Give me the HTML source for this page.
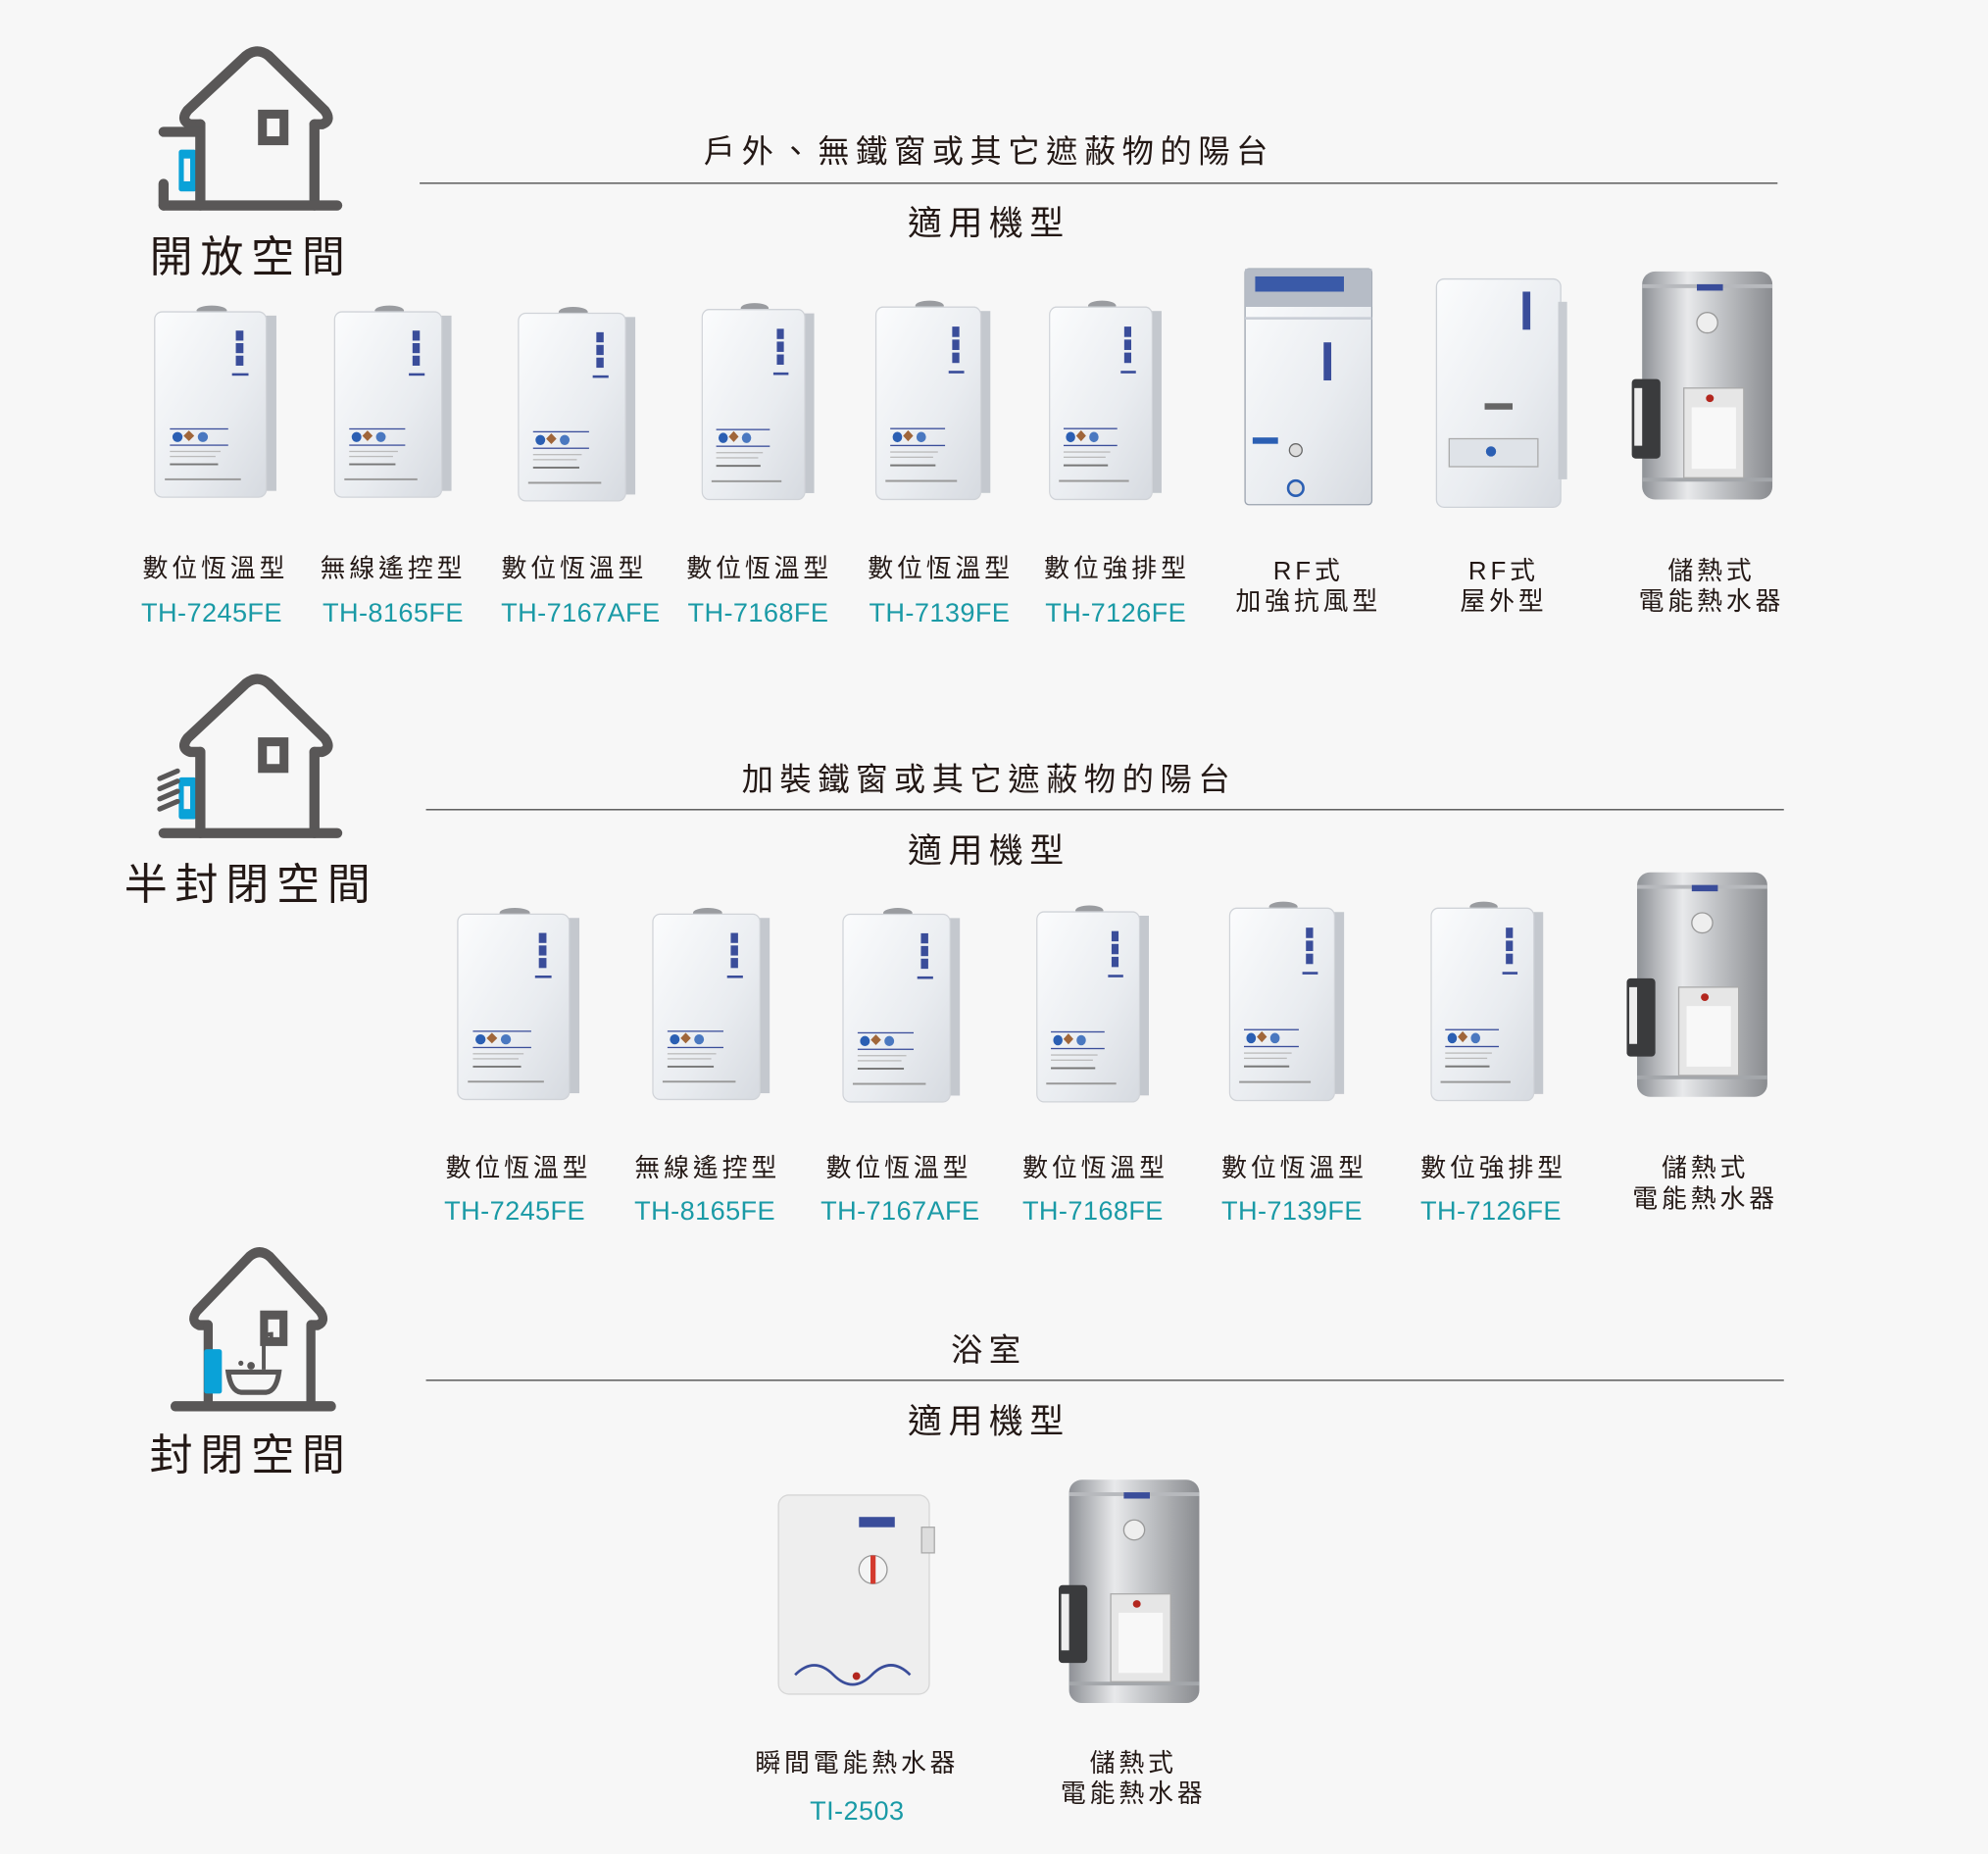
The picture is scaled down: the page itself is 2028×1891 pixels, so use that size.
<!DOCTYPE html>
<html><head><meta charset="utf-8">
<style>
html,body{margin:0;padding:0;background:#f7f7f7;}
body{width:2028px;height:1891px;overflow:hidden;position:relative;}
#st{position:absolute;left:0;top:0;width:1568px;height:1462px;transform:scale(1.29337);transform-origin:0 0;font-family:"Liberation Sans","Noto Sans CJK TC",sans-serif;color:#231815;}
.a{position:absolute;}
.t{position:absolute;text-align:center;white-space:nowrap;}
.nm{font-size:20px;letter-spacing:3px;line-height:24px;}
.md{font-size:21px;color:#1a9aa6;line-height:26px;letter-spacing:0.3px;}
.h1{font-size:25px;letter-spacing:5px;}
.h2{font-size:27px;letter-spacing:5px;}
.ln{position:absolute;height:1.3px;background:#444;}
.sp{font-size:34px;letter-spacing:6px;font-weight:normal;}
svg.p{position:absolute;overflow:visible;}
</style></head><body>
<svg width="0" height="0" style="position:absolute">
<defs>
<linearGradient id="gw" x1="0" y1="0" x2="1" y2="1"><stop offset="0" stop-color="#fbfcfd"/><stop offset="0.6" stop-color="#e9ecf0"/><stop offset="1" stop-color="#d6dae0"/></linearGradient>
<linearGradient id="gs" x1="0" y1="0" x2="1" y2="0"><stop offset="0" stop-color="#8e9196"/><stop offset="0.35" stop-color="#e8e9eb"/><stop offset="0.55" stop-color="#c9cbce"/><stop offset="1" stop-color="#8a8c90"/></linearGradient>
<symbol id="gas" viewBox="0 0 100 160" preserveAspectRatio="none">
<ellipse cx="47" cy="6" rx="12" ry="4" fill="#9a9ca0"/>
<rect x="86" y="10" width="12" height="140" fill="#c4c8ce"/>
<rect x="2" y="7" width="88" height="148" rx="6" fill="url(#gw)" stroke="#d0d3d8"/>
<rect x="66" y="22" width="6" height="8" fill="#3a4d9a"/><rect x="66" y="32" width="6" height="8" fill="#3a4d9a"/><rect x="66" y="42" width="6" height="8" fill="#3a4d9a"/>
<rect x="63" y="56" width="13" height="2" fill="#3a4d9a"/>
<rect x="14" y="100" width="46" height="1" fill="#3a4d9a"/>
<circle cx="20" cy="107" r="4" fill="#2b5fb3"/><rect x="26" y="103" width="6" height="6" fill="#a0663a" transform="rotate(45 29 106)"/><circle cx="40" cy="107" r="4" fill="#4a78c0"/>
<rect x="14" y="113" width="46" height="1" fill="#3a4d9a"/>
<rect x="14" y="118" width="40" height="1" fill="#bbb"/><rect x="14" y="122" width="36" height="1" fill="#bbb"/><rect x="14" y="128" width="38" height="1.5" fill="#777"/>
<rect x="10" y="140" width="60" height="1.5" fill="#999"/>
</symbol>
<symbol id="tank" viewBox="0 0 110 185" preserveAspectRatio="none">
<rect x="8" y="4" width="100" height="178" rx="10" fill="url(#gs)"/>
<rect x="8" y="14" width="100" height="3" fill="#b7b9bd"/><rect x="8" y="165" width="100" height="3" fill="#a4a7ab"/>
<rect x="50" y="14" width="20" height="5" fill="#3a4d9a"/>
<circle cx="58" cy="44" r="8" fill="#eee" stroke="#999"/>
<rect x="0" y="88" width="22" height="62" rx="3" fill="#3a3b3d"/>
<rect x="2" y="95" width="6" height="45" fill="#eee"/>
<rect x="40" y="95" width="46" height="70" fill="#e6e6e6" stroke="#aaa"/>
<circle cx="60" cy="103" r="3" fill="#b3261e"/>
<rect x="46" y="110" width="34" height="48" fill="#f8f8f8"/>
</symbol>
<symbol id="inst" viewBox="0 0 125 162" preserveAspectRatio="none">
<rect x="2" y="5" width="118" height="155" rx="8" fill="#eeeeee" stroke="#d6d6d6"/>
<rect x="114" y="30" width="10" height="20" fill="#ddd" stroke="#aaa"/>
<rect x="65" y="22" width="28" height="8" fill="#3a4d9a"/>
<circle cx="76" cy="63" r="11" fill="#f4f4f4" stroke="#999"/><rect x="74" y="52" width="4" height="22" fill="#d43a2e"/>
<path d="M15 145 q15 -15 30 0 q15 15 30 0 q15 -15 30 0" fill="none" stroke="#3a4d9a" stroke-width="2"/>
<circle cx="63" cy="146" r="3" fill="#b3261e"/>
</symbol>
<symbol id="rf" viewBox="0 0 105 190" preserveAspectRatio="none">
<rect x="2" y="2" width="100" height="186" rx="3" fill="url(#gw)" stroke="#9aa2ae"/>
<rect x="2" y="2" width="100" height="30" fill="#b6bcc6"/>
<rect x="10" y="8" width="70" height="12" fill="#3a5aa8"/>
<rect x="64" y="60" width="6" height="30" fill="#3a4d9a"/>
<rect x="2" y="40" width="100" height="2" fill="#c9ced6"/>
<circle cx="42" cy="145" r="5" fill="#ddd" stroke="#666"/>
<circle cx="42" cy="175" r="6" fill="#ddd" stroke="#2b5fb3" stroke-width="2"/>
<rect x="8" y="135" width="20" height="5" fill="#2b5fb3"/>
</symbol>
<symbol id="rf2" viewBox="0 0 107 184" preserveAspectRatio="none">
<rect x="2" y="2" width="98" height="180" rx="6" fill="url(#gw)" stroke="#cdd1d7"/>
<rect x="98" y="20" width="7" height="140" fill="#c8ccd2"/>
<rect x="70" y="12" width="6" height="30" fill="#3a4d9a"/>
<rect x="40" y="100" width="22" height="5" fill="#666"/>
<rect x="12" y="128" width="70" height="22" fill="#dfe3e8" stroke="#aaa"/>
<circle cx="45" cy="138" r="4" fill="#2b5fb3"/>
</symbol>
<symbol id="house" viewBox="0 0 160 140">
<g fill="none" stroke="#595757" stroke-width="8" stroke-linecap="round" stroke-linejoin="round">
<path d="M38 63 L30 63 Q22 60 28 52 L74 9 Q83 2 92 9 L136 52 Q142 60 134 63 L128 63"/>
<path d="M38 63 L38 127 M128 63 L128 127"/>
<path d="M9 127 L146 127"/>
</g>
<rect x="87" y="55" width="17" height="21" fill="none" stroke="#595757" stroke-width="7"/>
</symbol>
</defs></svg>

<div id="st">
<svg class="p" style="left:120px;top:35px" width="160" height="140" viewBox="0 0 160 140">
<rect x="21" y="83" width="14" height="33" rx="2" fill="#0aa2d8"/><rect x="25" y="90" width="5" height="18" fill="#f7f7f7"/>
<use href="#house"/>
<path d="M9 69 L38 69 M9 110 L9 127" stroke="#595757" stroke-width="8" stroke-linecap="round"/>
</svg>
<div class="t sp" style="left:98px;width:200px;top:175px;">開放空間</div>

<svg class="p" style="left:120px;top:530px" width="160" height="140" viewBox="0 0 160 140">
<rect x="21" y="83" width="14" height="33" rx="2" fill="#0aa2d8"/><rect x="25" y="90" width="5" height="18" fill="#f7f7f7"/>
<use href="#house"/>
<path d="M6 84 L20 78 M6 92 L20 86 M6 100 L20 94 M6 108 L20 102" stroke="#595757" stroke-width="4" stroke-linecap="round"/>
</svg>
<div class="t sp" style="left:98px;width:200px;top:670px;">半封閉空間</div>

<svg class="p" style="left:120px;top:982px" width="160" height="140" viewBox="0 0 160 140">
<use href="#house" transform="translate(10 0) scale(0.9 1)"/>
<rect x="41" y="82" width="14" height="35" rx="2" fill="#0aa2d8"/>
<path d="M60 100 L100 100 Q98 115 90 116 L70 116 Q62 115 60 100 Z" fill="none" stroke="#595757" stroke-width="4"/>
<path d="M88 98 L88 78 Q88 70 94 70 L94 76" fill="none" stroke="#595757" stroke-width="3"/>
<circle cx="78" cy="95" r="3" fill="#595757"/><circle cx="70" cy="93" r="2" fill="#595757"/>
</svg>
<div class="t sp" style="left:98px;width:200px;top:1120px;">封閉空間</div>

<div class="t h1" style="left:380px;width:800px;top:100px;">戶外、無鐵窗或其它遮蔽物的陽台</div>
<div class="ln" style="left:331px;width:1071px;top:144px;"></div>
<div class="t h2" style="left:580px;width:400px;top:154px;">適用機型</div>

<svg class="p" style="left:120px;top:239px" width="100" height="158"><use href="#gas" width="100" height="158"/></svg>
<svg class="p" style="left:262px;top:239px" width="96" height="158"><use href="#gas" width="96" height="158"/></svg>
<svg class="p" style="left:407px;top:240px" width="96" height="160"><use href="#gas" width="96" height="160"/></svg>
<svg class="p" style="left:552px;top:237px" width="92" height="162"><use href="#gas" width="92" height="162"/></svg>
<svg class="p" style="left:689px;top:235px" width="94" height="164"><use href="#gas" width="94" height="164"/></svg>
<svg class="p" style="left:826px;top:235px" width="92" height="164"><use href="#gas" width="92" height="164"/></svg>
<svg class="p" style="left:980px;top:210px" width="105" height="190"><use href="#rf" width="105" height="190"/></svg>
<svg class="p" style="left:1131px;top:218px" width="107" height="184"><use href="#rf2" width="107" height="184"/></svg>
<svg class="p" style="left:1287px;top:210px" width="113" height="187"><use href="#tank" width="113" height="187"/></svg>

<div class="t nm" style="left:70px;width:200px;top:437px;">數位恆溫型</div><div class="t md" style="left:67px;width:200px;top:471px;">TH-7245FE</div>
<div class="t nm" style="left:210px;width:200px;top:437px;">無線遙控型</div><div class="t md" style="left:210px;width:200px;top:471px;">TH-8165FE</div>
<div class="t nm" style="left:353px;width:200px;top:437px;">數位恆溫型</div><div class="t md" style="left:358px;width:200px;top:471px;">TH-7167AFE</div>
<div class="t nm" style="left:499px;width:200px;top:437px;">數位恆溫型</div><div class="t md" style="left:498px;width:200px;top:471px;">TH-7168FE</div>
<div class="t nm" style="left:642px;width:200px;top:437px;">數位恆溫型</div><div class="t md" style="left:641px;width:200px;top:471px;">TH-7139FE</div>
<div class="t nm" style="left:781px;width:200px;top:437px;">數位強排型</div><div class="t md" style="left:780px;width:200px;top:471px;">TH-7126FE</div>
<div class="t nm" style="left:932px;width:200px;top:439px;">RF式<br>加強抗風型</div>
<div class="t nm" style="left:1086px;width:200px;top:439px;">RF式<br>屋外型</div>
<div class="t nm" style="left:1250px;width:200px;top:439px;">儲熱式<br>電能熱水器</div>

<div class="t h1" style="left:380px;width:800px;top:595px;">加裝鐵窗或其它遮蔽物的陽台</div>
<div class="ln" style="left:336px;width:1071px;top:638px;"></div>
<div class="t h2" style="left:580px;width:400px;top:649px;">適用機型</div>

<svg class="p" style="left:359px;top:714px" width="100" height="158"><use href="#gas" width="100" height="158"/></svg>
<svg class="p" style="left:513px;top:714px" width="96" height="158"><use href="#gas" width="96" height="158"/></svg>
<svg class="p" style="left:663px;top:714px" width="96" height="160"><use href="#gas" width="96" height="160"/></svg>
<svg class="p" style="left:816px;top:712px" width="92" height="162"><use href="#gas" width="92" height="162"/></svg>
<svg class="p" style="left:968px;top:709px" width="94" height="164"><use href="#gas" width="94" height="164"/></svg>
<svg class="p" style="left:1127px;top:709px" width="92" height="164"><use href="#gas" width="92" height="164"/></svg>
<svg class="p" style="left:1283px;top:684px" width="113" height="184"><use href="#tank" width="113" height="184"/></svg>

<div class="t nm" style="left:309px;width:200px;top:910px;">數位恆溫型</div><div class="t md" style="left:306px;width:200px;top:943px;">TH-7245FE</div>
<div class="t nm" style="left:458px;width:200px;top:910px;">無線遙控型</div><div class="t md" style="left:456px;width:200px;top:943px;">TH-8165FE</div>
<div class="t nm" style="left:609px;width:200px;top:910px;">數位恆溫型</div><div class="t md" style="left:610px;width:200px;top:943px;">TH-7167AFE</div>
<div class="t nm" style="left:764px;width:200px;top:910px;">數位恆溫型</div><div class="t md" style="left:762px;width:200px;top:943px;">TH-7168FE</div>
<div class="t nm" style="left:921px;width:200px;top:910px;">數位恆溫型</div><div class="t md" style="left:919px;width:200px;top:943px;">TH-7139FE</div>
<div class="t nm" style="left:1078px;width:200px;top:910px;">數位強排型</div><div class="t md" style="left:1076px;width:200px;top:943px;">TH-7126FE</div>
<div class="t nm" style="left:1245px;width:200px;top:910px;">儲熱式<br>電能熱水器</div>

<div class="t h1" style="left:380px;width:800px;top:1045px;">浴室</div>
<div class="ln" style="left:336px;width:1071px;top:1088px;"></div>
<div class="t h2" style="left:580px;width:400px;top:1099px;">適用機型</div>

<svg class="p" style="left:612px;top:1174px" width="126" height="164"><use href="#inst" width="126" height="164"/></svg>
<svg class="p" style="left:835px;top:1163px" width="113" height="183"><use href="#tank" width="113" height="183"/></svg>

<div class="t nm" style="left:576px;width:200px;top:1379px;">瞬間電能熱水器</div><div class="t md" style="left:576px;width:200px;top:1416px;">TI-2503</div>
<div class="t nm" style="left:794px;width:200px;top:1379px;">儲熱式<br>電能熱水器</div>
</div>
</body></html>
